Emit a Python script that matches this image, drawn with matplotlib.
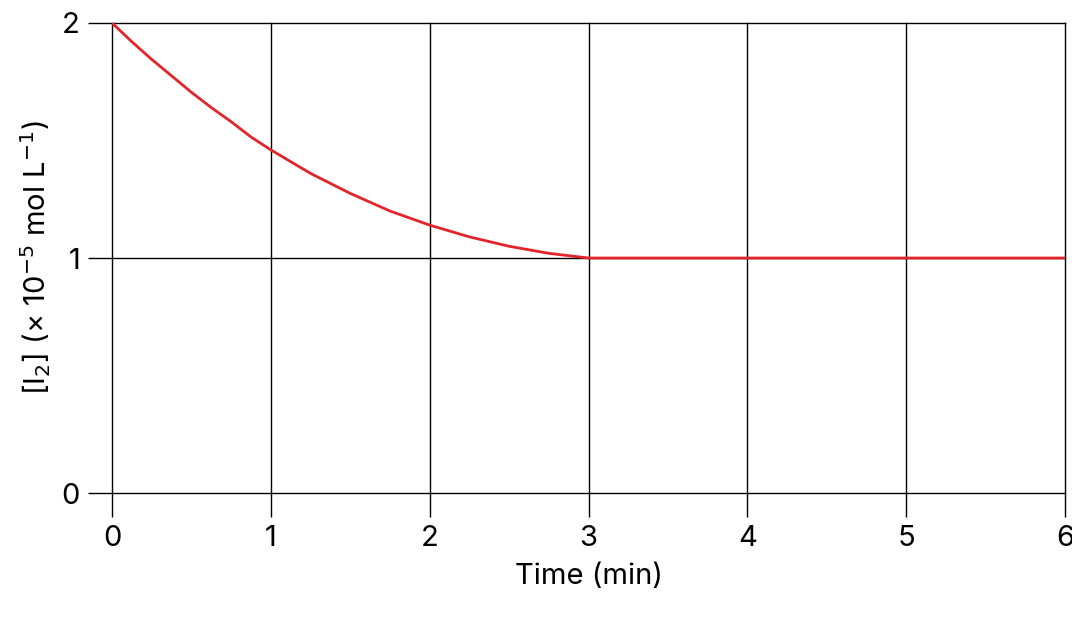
import matplotlib
matplotlib.use("Agg")
import matplotlib.pyplot as plt

time_min = [0, 0.125, 0.25, 0.375, 0.5, 0.625, 0.75, 0.875, 1, 1.25, 1.5, 1.75, 2, 2.25, 2.5, 2.75, 3, 4, 5, 6]
i2_conc = [2.0, 1.92, 1.845, 1.775, 1.705, 1.64, 1.58, 1.515, 1.46, 1.36, 1.275, 1.20, 1.14, 1.09, 1.05, 1.02, 1.0, 1.0, 1.0, 1.0]
x_ticks = [0, 1, 2, 3, 4, 5, 6]
y_ticks = [0, 1, 2]

plt.rcParams['font.family'] = ['Inter', 'DejaVu Sans']
fig = plt.figure(figsize=(10.72, 6.21), dpi=100)
ax = fig.add_axes([0.1045, 0.206, 0.889, 0.757])
ax.plot(time_min, i2_conc, color='#e3242b', lw=2, zorder=3)
ax.set_xlim(0, 6)
ax.set_ylim(0, 2)
ax.set_xticks(x_ticks)
ax.set_yticks(y_ticks)
ax.grid(True, color='black', lw=1)
for gl in ax.get_xgridlines() + ax.get_ygridlines():
    gl.set_clip_on(False)
for s in ax.spines.values():
    s.set_visible(False)
ax.tick_params(axis='both', length=17, width=1, labelsize=21, pad=6)
ax.set_xlabel('Time (min)', fontsize=21, labelpad=8)
ax.set_ylabel('[I$_2$] (× 10$^{-5}$ mol L$^{-1}$)', fontsize=21, labelpad=6)
fig.savefig('out.png', dpi=100)
